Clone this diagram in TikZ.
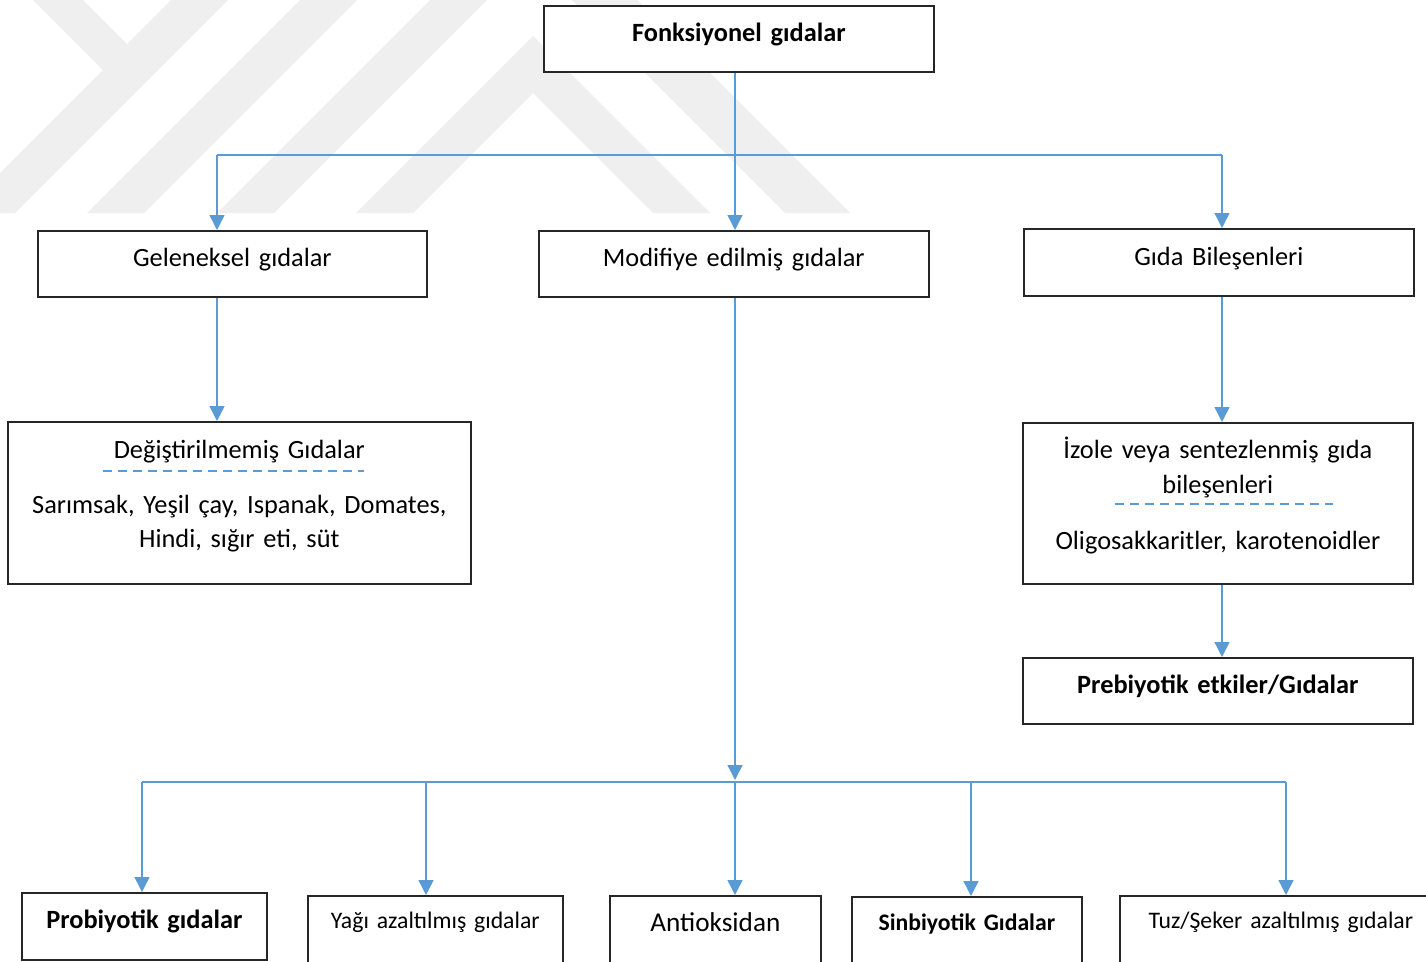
\documentclass[tikz,border=0pt]{standalone}
\usepackage{fontspec}
\setmainfont{Carlito}
\usetikzlibrary{arrows.meta}
\definecolor{okmavi}{HTML}{5B9BD5}
\definecolor{filigran}{HTML}{EFEFEF}

\begin{document}
\begin{tikzpicture}[x=0.02cm, y=-0.02cm,
        kutu/.style={draw=black!85, line width=1pt, fill=white, inner sep=0pt,
            anchor=north west, align=center, font=\fontsize{15}{19.5}\selectfont},
        ok/.style={okmavi, line width=0.8pt, -{Triangle[length=0.3cm, width=0.3cm]}},
        hat/.style={okmavi, line width=0.8pt},
        kesik/.style={okmavi, line width=1pt, dash pattern=on 0.18cm off 0.12cm}]
        \useasboundingbox (0,0) rectangle (1426,961);

        % Watermark in the background
        \fill[filigran] (33,0) -- (83,0) -- (127,44) -- (171,0) -- (228,0) -- (15,213)
            -- (0,213) -- (0,173) -- (103,70) -- cycle;
        \fill[filigran] (300,0) -- (357,0) -- (144,213) -- (87,213) -- cycle;
        \fill[filigran] (430,0) -- (487,0) -- (274,213) -- (217,213) -- cycle;
        \fill[filigran] (533,36) -- (710,213) -- (653,213) -- (533,93) -- (413,213)
            -- (356,213) -- cycle;
        \fill[filigran] (572,0) -- (637,0) -- (850,213) -- (785,213) -- cycle;

        % Top level
        \node[kutu, text width=7.8cm, text height=0.72cm, text depth=0.6cm,
            font=\fontsize{15}{19.5}\selectfont\bfseries] (fonk) at (543,5) {Fonksiyonel gıdalar};

        % Second level
        \node[kutu, text width=7.78cm, text height=0.72cm, text depth=0.6cm] (gel) at (37,230) {Geleneksel gıdalar};
        \node[kutu, text width=7.8cm, text height=0.72cm, text depth=0.6cm] (mod) at (538,230) {Modifiye edilmiş gıdalar};
        \node[kutu, text width=7.8cm, text height=0.74cm, text depth=0.6cm] (bil) at (1023,228) {Gıda Bileşenleri};

        % Third level
        \node[kutu, text width=9.26cm, text height=0.74cm, text depth=2.5cm] (deg) at (7,421)
            {Değiştirilmemiş Gıdalar\\[11.7pt]Sarımsak, Yeşil çay, Ispanak, Domates,\\Hindi, sığır eti, süt};
        \node[kutu, text width=7.8cm, text height=0.72cm, text depth=2.5cm] (izo) at (1022,422)
            {İzole veya sentezlenmiş gıda\\bileşenleri\\[12.3pt]Oligosakkaritler, karotenoidler};
        \draw[kesik] (103,471) -- (364,471);
        \draw[kesik] (1115,504) -- (1333,504);
        \node[kutu, text width=7.8cm, text height=0.72cm, text depth=0.6cm,
            font=\fontsize{15}{19.5}\selectfont\bfseries] (pre) at (1022,657) {Prebiyotik etkiler/Gıdalar};

        % Bottom row
        \node[kutu, text width=4.9cm, text height=0.72cm, text depth=0.62cm,
            font=\fontsize{15}{19.5}\selectfont\bfseries] (pro) at (21,892) {Probiyotik gıdalar};
        \node[kutu, text width=5.1cm, text height=0.66cm, text depth=0.8cm,
            font=\fontsize{13.5}{16}\selectfont] (yag) at (307,895) {Yağı azaltılmış gıdalar};
        \node[kutu, text width=4.22cm, text height=0.72cm, text depth=0.76cm,
            font=\fontsize{15.5}{19.5}\selectfont] (ant) at (609,895) {Antioksidan};
        \node[kutu, text width=4.6cm, text height=0.68cm, text depth=0.8cm,
            font=\fontsize{13.5}{16}\selectfont\bfseries] (sin) at (851,896) {Sinbiyotik Gıdalar};
        \node[kutu, text width=6.44cm, text height=0.66cm, text depth=0.8cm,
            font=\fontsize{13.5}{16}\selectfont] (tuz) at (1119,895) {Tuz/Şeker azaltılmış gıdalar};

        % Connectors
        \coordinate (solbus) at (217,155);
        \coordinate (orta) at (735,155);
        \coordinate (sagbus) at (1222,155);
        \draw[hat] (solbus) -- (sagbus);
        \draw[ok] (fonk.south -| orta) -- (mod.north -| orta);
        \draw[ok] (solbus) -- (gel.north -| solbus);
        \draw[ok] (sagbus) -- (bil.north -| sagbus);
        \draw[ok] (gel.south -| solbus) -- (deg.north -| solbus);
        \draw[ok] (bil.south -| sagbus) -- (izo.north -| sagbus);
        \draw[ok] (izo.south -| sagbus) -- (pre.north -| sagbus);

        \coordinate (altuc) at (735,780);
        \draw[ok] (mod.south -| orta) -- (altuc);
        \draw[hat] (142,782) -- (1286,782);
        \foreach \x/\hedef in {142/pro, 426/yag, 735/ant, 971/sin, 1286/tuz} {
            \coordinate (dal) at (\x,782);
            \draw[ok] (dal) -- (\hedef.north -| dal);
        }
\end{tikzpicture}
\end{document}
